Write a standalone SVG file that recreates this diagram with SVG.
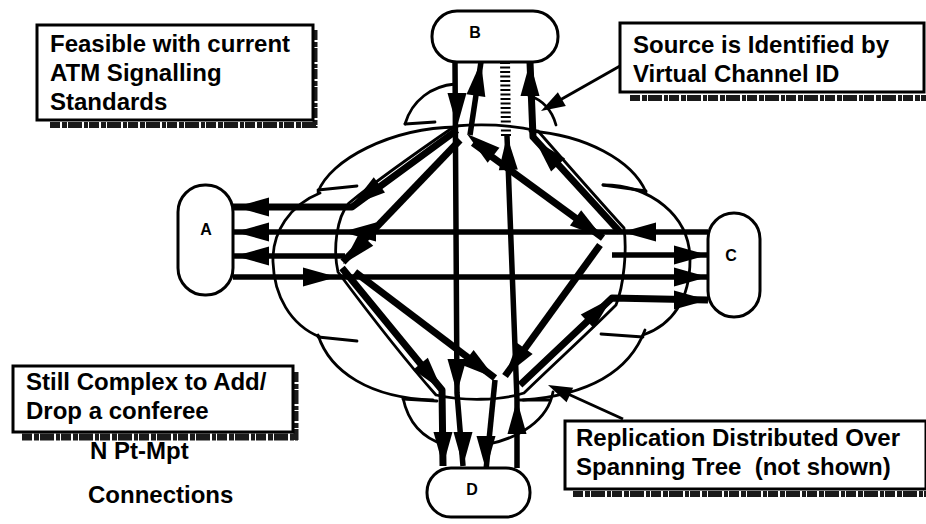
<svg xmlns="http://www.w3.org/2000/svg" width="926" height="524" viewBox="0 0 926 524">
<defs>
<style>
.node rect{fill:#fff;stroke:#000;stroke-width:3}
.lbl{font-family:"Liberation Sans",Arial,Helvetica,sans-serif;font-weight:bold;font-size:16px;text-anchor:middle;fill:#000}
.note rect{fill:#fff;stroke:#000;stroke-width:3}
.note text,.caption{font-family:"Liberation Sans",Arial,Helvetica,sans-serif;font-weight:bold;font-size:24px;fill:#000;white-space:pre}
.shadow{stroke:#1a1a1a;fill:none;stroke-dasharray:10 2 5 1 14 2 4 1}
.cloud{fill:none;stroke:#000;stroke-width:2.8;stroke-linecap:round}
.link{fill:none;stroke:#000;stroke-width:5.5;stroke-linejoin:round}
.thick{stroke-width:7}
.ladder{fill:none;stroke:#000;stroke-width:10;stroke-dasharray:2 2.5}
.ptr{fill:none;stroke:#000;stroke-width:3}
.head{fill:#000}
</style>
<path id="ah" d="M0,0 L-34,-9.5 L-34,9.5 Z"/>
<path id="ahs" d="M0,0 L-24,-8 L-24,8 Z"/>
</defs>

<rect width="926" height="524" fill="#fff"/>

<!-- ATM network cloud -->
<g id="cloud">
  <path class="cloud" d="M455,126 C420,150 380,178 349,203 C336,218 333,250 338,272 C370,315 405,360 436,395 C462,401 500,401 524,393 C556,362 588,333 616,305 C624,285 627,250 624,228 C595,196 566,163 538,131 C512,125 480,124 455,126 Z"/>
  <path class="cloud" d="M318,192 C330,160 390,128 457,127"/>
  <path class="cloud" d="M318,190 L357,186"/>
  <path class="cloud" d="M405,124 C412,100 432,86 455,84"/>
  <path class="cloud" d="M405,124 L435,122"/>
  <path class="cloud" d="M528,95 C543,100 552,110 556,125"/>
  <path class="cloud" d="M530,131 C585,135 632,160 646,192"/>
  <path class="cloud" d="M603,185 L646,191"/>
  <path class="cloud" d="M603,185 C650,185 690,215 690,260 C690,300 672,325 643,335"/>
  <path class="cloud" d="M601,334 L643,337"/>
  <path class="cloud" d="M645,330 C630,370 590,395 523,400"/>
  <path class="cloud" d="M520,400 L550,400"/>
  <path class="cloud" d="M553,392 C548,420 520,438 485,445"/>
  <path class="cloud" d="M403,398 C408,422 422,438 445,445"/>
  <path class="cloud" d="M318,335 C330,372 370,398 433,400"/>
  <path class="cloud" d="M403,399 L437,401"/>
  <path class="cloud" d="M320,193 C290,205 272,232 273,262 C274,295 290,325 320,337"/>
  <path class="cloud" d="M318,337 L357,341"/>
</g>

<!-- point-to-multipoint connections -->
<g id="connectors">
  <path class="link thick" d="M457,130 L352,207 L233,207"/>
  <path class="link" d="M708,232 L233,232"/>
  <path class="link thick" d="M460,140 L343,262"/>
  <path class="link" d="M345,256 L233,256"/>
  <path class="link" d="M233,277 L708,277"/>
  <path class="link thick" d="M473,143 L603,238"/>
  <path class="link" d="M612,255 L708,255"/>
  <path class="link thick" d="M620,232 L533,137 L530,62"/>
  <path class="link" d="M470,135 L481,62"/>
  <path class="link" d="M455,62 L457,393 L463,466"/>
  <path class="link thick" d="M342,268 L442,390 L443,466"/>
  <path class="link thick" d="M355,272 L495,378"/>
  <path class="link thick" d="M600,245 L505,376"/>
  <path class="link" d="M495,380 L486,470"/>
  <path class="link" d="M517,468 L517,400 L507,136"/>
  <path class="ladder" d="M506,136 L505,60"/>
  <path class="link thick" d="M520,385 L612,298 L708,300"/>

  <g class="head">
    <use href="#ah" transform="translate(235,207) rotate(180)"/>
    <use href="#ah" transform="translate(235,232) rotate(180)"/>
    <use href="#ah" transform="translate(235,256) rotate(180)"/>
    <use href="#ah" transform="translate(337,277)"/>
    <use href="#ah" transform="translate(342,232) rotate(180)"/>
    <use href="#ah" transform="translate(622,232) rotate(180)"/>
    <use href="#ah" transform="translate(708,255)"/>
    <use href="#ah" transform="translate(708,277)"/>
    <use href="#ah" transform="translate(708,300)"/>
    <use href="#ah" transform="translate(352,205) rotate(143.7)"/>
    <use href="#ah" transform="translate(343,264) rotate(133.3)"/>
    <use href="#ah" transform="translate(603,238) rotate(36.2)"/>
    <use href="#ah" transform="translate(467,134) rotate(-141.4)"/>
    <use href="#ah" transform="translate(535,140) rotate(-132.7)"/>
    <use href="#ah" transform="translate(530,62) rotate(-90)"/>
    <use href="#ah" transform="translate(481,62) rotate(-81.4)"/>
    <use href="#ah" transform="translate(457,127) rotate(90)"/>
    <use href="#ah" transform="translate(457,393) rotate(90)"/>
    <use href="#ah" transform="translate(443,466) rotate(90)"/>
    <use href="#ah" transform="translate(463,466) rotate(90)"/>
    <use href="#ah" transform="translate(486,470) rotate(90)"/>
    <use href="#ah" transform="translate(442,390) rotate(50.7)"/>
    <use href="#ah" transform="translate(505,376) rotate(125.9)"/>
    <use href="#ah" transform="translate(495,378) rotate(37.1)"/>
    <use href="#ah" transform="translate(612,298) rotate(-43.4)"/>
    <use href="#ah" transform="translate(517,400) rotate(-90)"/>
    <use href="#ah" transform="translate(507,136) rotate(-92.2)"/>
  </g>
</g>

<!-- endpoints -->
<g id="node-A" class="node">
  <rect x="178" y="185" width="55" height="110" rx="27"/>
  <text class="lbl" x="206" y="235">A</text>
</g>
<g id="node-B" class="node">
  <rect x="432" y="11" width="126" height="51" rx="25"/>
  <text class="lbl" x="475" y="38">B</text>
</g>
<g id="node-C" class="node">
  <rect x="708" y="213" width="52" height="104" rx="26"/>
  <text class="lbl" x="731" y="261">C</text>
</g>
<g id="node-D" class="node">
  <rect x="427" y="468" width="103" height="49" rx="24"/>
  <text class="lbl" x="472" y="495">D</text>
</g>

<!-- callout notes -->
<g id="note-feasible" class="note">
  <path class="shadow" stroke-width="6" d="M50,125 L317,125"/>
  <path class="shadow" stroke-width="5" d="M315,30 L315,128"/>
  <rect x="37" y="25" width="276" height="95"/>
  <text x="50" y="52">Feasible with current</text>
  <text x="50" y="81">ATM Signalling</text>
  <text x="50" y="110">Standards</text>
</g>

<g id="note-source" class="note">
  <path class="ptr" d="M620,66 L560,100"/>
  <use class="head" href="#ahs" transform="translate(541,111) rotate(150.3)"/>
  <path class="shadow" stroke-width="6" d="M630,98 L926,98"/>
  <rect x="620" y="23" width="304" height="69"/>
  <text x="633" y="53">Source is Identified by</text>
  <text x="633" y="82">Virtual Channel ID</text>
</g>

<g id="note-complex" class="note">
  <path class="shadow" stroke-width="7" d="M22,437 L298,437"/>
  <path class="shadow" stroke-width="5" d="M296,372 L296,440"/>
  <rect x="13" y="366" width="280" height="66"/>
  <text x="26" y="390">Still Complex to Add/</text>
  <text x="26" y="419">Drop a conferee</text>
</g>

<g id="note-replication" class="note">
  <path class="ptr" d="M623,419 L568,394"/>
  <use class="head" href="#ahs" transform="translate(548,385) rotate(204.4)"/>
  <path class="shadow" stroke-width="6" d="M573,494 L926,494"/>
  <rect x="565" y="421" width="361" height="68"/>
  <text x="576" y="446">Replication Distributed Over</text>
  <text x="576" y="475" xml:space="preserve">Spanning Tree  (not shown)</text>
</g>

<text class="caption" x="90" y="459">N Pt-Mpt</text>
<text class="caption" x="88" y="503">Connections</text>
</svg>
